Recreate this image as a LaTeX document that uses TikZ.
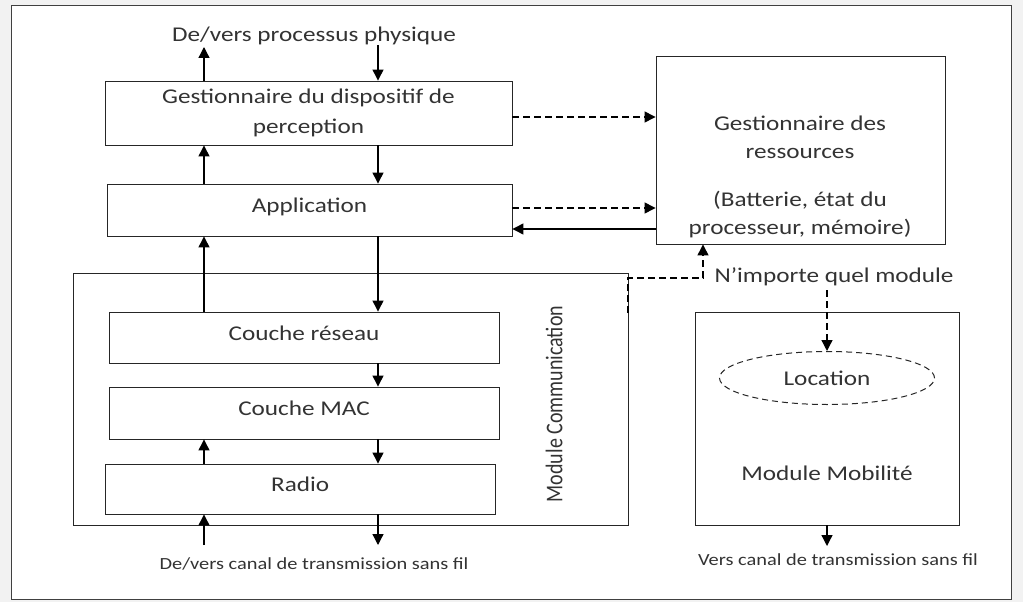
\documentclass[tikz,border=0pt]{standalone}
\usepackage{fontspec}
\setmainfont{Carlito}[FakeStretch=1.2]
\newfontfamily\plainfont{Carlito}
\usetikzlibrary{arrows.meta,shapes.geometric,calc}
\newcommand{\up}[1]{\raisebox{9pt}{#1}}
\begin{document}
\begin{tikzpicture}[x=1pt,y=-1pt,
  box/.style={draw=black!85,line width=0.9pt,rectangle,inner sep=0pt,align=center,text=black!80,font=\fontsize{21}{30}\selectfont},
  frame/.style={draw=black!85,line width=0.9pt,rectangle,inner sep=0pt},
  arr/.style={draw=black,line width=1.3pt,-{Triangle[length=11pt,width=11pt]}},
  darr/.style={arr,dash pattern=on 7pt off 4pt},
  lbl/.style={text=black!80,inner sep=0pt,align=center},
  biglbl/.style={lbl,font=\fontsize{21}{28}\selectfont},
  smalllbl/.style={lbl,font=\fontsize{17}{20}\selectfont}]
\useasboundingbox (0,0) rectangle (1023,602);
\fill[gray!10] (0,0) rectangle (1023,602);
\draw[draw=black!75,fill=white,line width=1pt] (11,6) rectangle (1011,599);

% communication module frame
\node[frame,minimum width=555pt,minimum height=252pt] (comm) at (350.5,399) {};

% boxes
\node[box,minimum width=407pt,minimum height=64pt] (gest) at (308.5,113) {Gestionnaire du dispositif de\\perception};
\node[box,minimum width=405pt,minimum height=52pt] (app) at (309.5,210) {\up{Application}};
\node[box,minimum width=390pt,minimum height=51pt] (reseau) at (304,337.5) {\up{Couche réseau}};
\node[box,minimum width=390pt,minimum height=52pt] (mac) at (304,413) {\up{Couche MAC}};
\node[box,minimum width=389.5pt,minimum height=50pt] (radio) at (300.25,489) {\up{Radio}};
\node[frame,minimum width=289pt,minimum height=188pt] (res) at (800.5,150) {};
\node[biglbl] (restext) at (800,177) {Gestionnaire des\\ressources\\[20pt](Batterie, état du\\processeur, mémoire)};
\node[frame,minimum width=264pt,minimum height=213pt] (mob) at (827,418.5) {};
\node[biglbl] (mobtext) at (827,473) {Module Mobilité};
\node[ellipse,draw=black!85,line width=1pt,dash pattern=on 6pt off 4pt,minimum width=215pt,minimum height=53pt,inner sep=0pt,text=black!80,font=\fontsize{21}{24}\selectfont] (loc) at (827,378) {Location};

% labels
\node[biglbl] (phys) at (314,36) {De/vers processus physique};
\node[smalllbl] (canal) at (314,564) {De/vers canal de transmission sans fil};
\node[smalllbl] (vcanal) at (838,560) {Vers canal de transmission sans fil};
\node[biglbl] (any) at (834,277) {N’importe quel module};
\node[lbl,rotate=90,font=\plainfont\fontsize{20}{22}\selectfont] (commtext) at (554,404) {\scalebox{1}[1.2]{Module Communication}};

% columns
\coordinate (tl) at (204,47);
\coordinate (tr) at (378,45);
\coordinate (bl) at (204,545);
\coordinate (br) at (378,545);

\draw[arr] (gest.north -| tl) -- (tl);
\draw[arr] (tr) -- (gest.north -| tr);
\draw[arr] (app.north -| tl) -- (gest.south -| tl);
\draw[arr] (gest.south -| tr) -- (app.north -| tr);
\draw[arr] (reseau.north -| tl) -- (app.south -| tl);
\draw[arr] (app.south -| tr) -- (reseau.north -| tr);
\draw[arr] (reseau.south -| tr) -- (mac.north -| tr);
\draw[arr] (mac.south -| tr) -- (radio.north -| tr);
\draw[arr] (radio.north -| tl) -- (mac.south -| tl);
\draw[arr] (bl) -- (radio.south -| bl);
\draw[arr] (radio.south -| br) -- (br);

% resource manager connectors
\coordinate (y1) at (0,117);
\coordinate (y2) at (0,208);
\coordinate (y3) at (0,229);
\draw[darr] (gest.east |- y1) -- (res.west |- y1);
\draw[darr] (app.east |- y2) -- (res.west |- y2);
\draw[arr] (res.west |- y3) -- (app.east |- y3);

\coordinate (c1) at (628,313);
\coordinate (c2) at (628,278);
\coordinate (c3) at (703,278);
\draw[darr] (c1) -- (c2) -- (c3) -- (res.south -| c3);

\coordinate (m1) at (827,290);
\draw[darr] (m1) -- (loc.north);
\coordinate (m2) at (827,546);
\draw[arr] (mob.south) -- (m2);
\end{tikzpicture}
\end{document}
